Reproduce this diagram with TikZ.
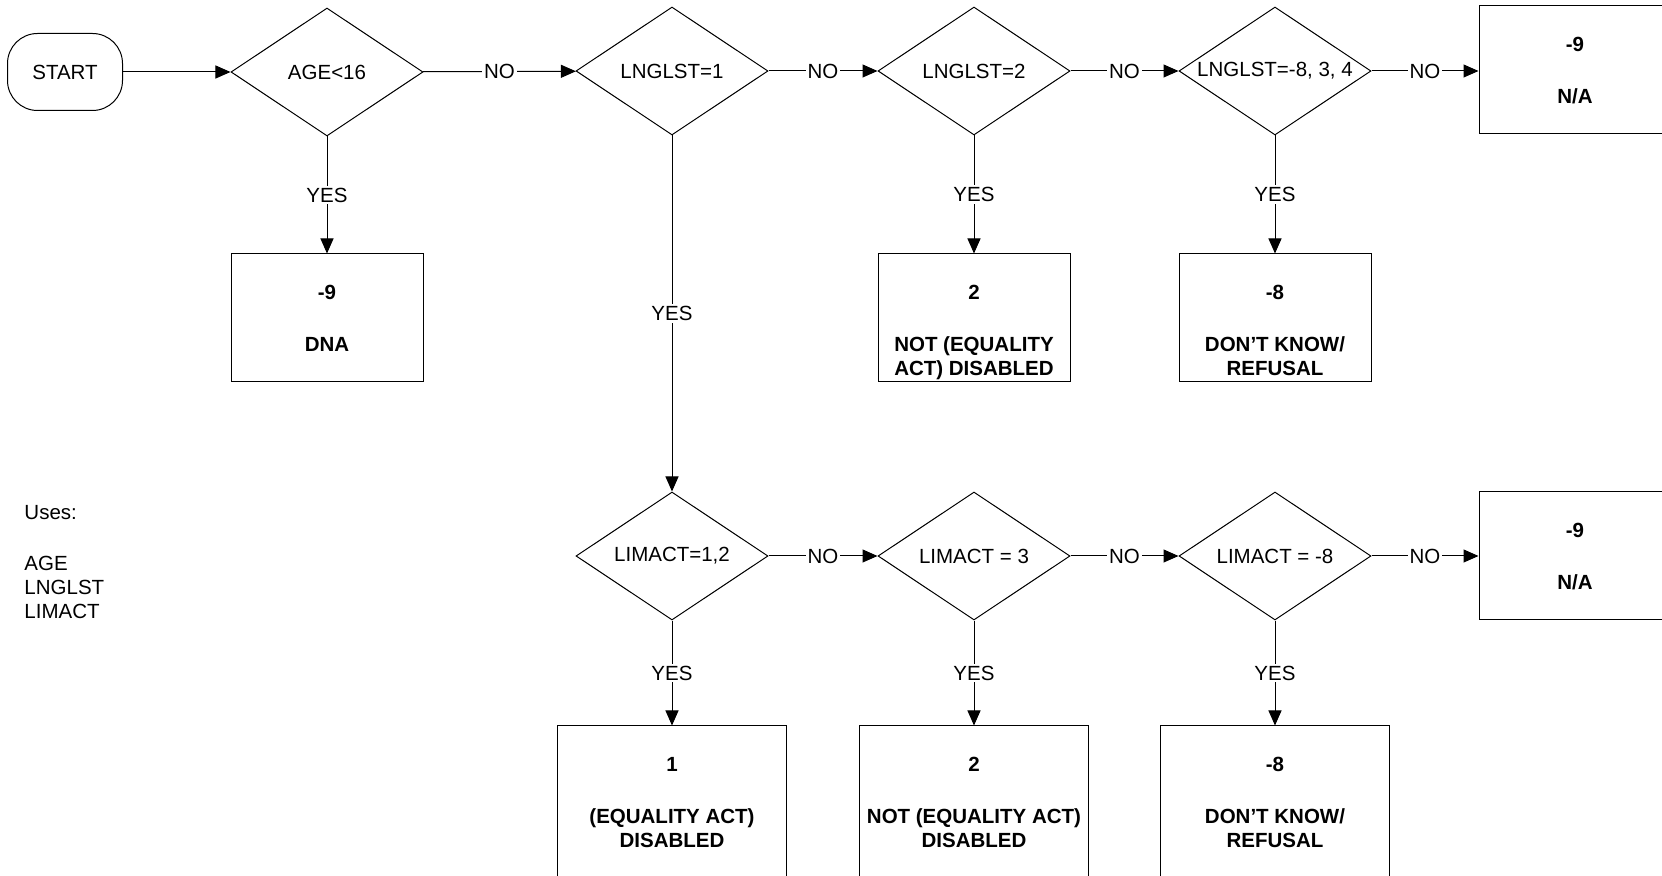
\documentclass[tikz,border=0pt]{standalone}
\usepackage{fontspec}
\setmainfont{Liberation Sans}
\usetikzlibrary{shapes.geometric,arrows.meta}
\newcommand\chartfont{\fontsize{10.25pt}{12pt}\selectfont}
\begin{document}
\begin{tikzpicture}[x=0.5pt,y=-0.5pt,line width=0.5pt,
  every node/.style={font=\chartfont},
  decision/.style={diamond,draw,aspect=1.5,inner sep=0pt,minimum width=96pt,minimum height=64pt},
  outcome/.style={rectangle,draw,minimum width=96pt,minimum height=64pt},
  bigoutcome/.style={outcome,minimum width=114.5pt,minimum height=77pt},
  startbox/.style={rectangle,draw,rounded corners=15pt,minimum width=57.5pt,minimum height=38.5pt},
  valtext/.style={font=\chartfont\bfseries,align=center,anchor=north,inner sep=0pt},
  lbl/.style={fill=white,inner sep=1pt},
  flow/.style={-{Triangle[length=7.5pt,width=6.5pt]}}]
\useasboundingbox (0,0) rectangle (1662,876);
\clip (0,0) rectangle (1662,876);
\node[startbox] (start) at (65,72) {START};
\node[decision] (age) at (327,72) {AGE<16};
\node[decision] (lng1) at (672,71) {LNGLST=1};
\node[decision] (lng2) at (974,71) {LNGLST=2};
\node[decision] (lng8) at (1275,71) {LNGLST=-8, 3, 4};
\node[outcome] (na1) at (1575,70) {};
\node[outcome] (dna) at (327,318) {};
\node[outcome] (notdis1) at (974,318) {};
\node[outcome] (dk1) at (1275,318) {};
\node[decision] (lim12) at (672,556) {LIMACT=1,2};
\node[decision] (lim3) at (974,556) {LIMACT = 3};
\node[decision] (lim8) at (1275,556) {LIMACT = -8};
\node[outcome] (na2) at (1575,556) {};
\node[bigoutcome] (dis) at (672,803) {};
\node[bigoutcome] (notdis2) at (974,803) {};
\node[bigoutcome] (dk2) at (1275,803) {};
% box texts
\node[valtext] (na1T) at ([yshift=-15.5pt]na1.north) {-9\\[14pt]N/A};
\node[valtext] (dnaT) at ([yshift=-15.5pt]dna.north) {-9\\[14pt]DNA};
\node[valtext] (notdis1T) at ([yshift=-15.5pt]notdis1.north) {2\\[14pt]NOT (EQUALITY\\ACT) DISABLED};
\node[valtext] (dk1T) at ([yshift=-15.5pt]dk1.north) {-8\\[14pt]DON'T KNOW/\\REFUSAL};
\node[valtext] (na2T) at ([yshift=-15.5pt]na2.north) {-9\\[14pt]N/A};
\node[valtext] (disT) at ([yshift=-15.5pt]dis.north) {1\\[14pt](EQUALITY ACT)\\DISABLED};
\node[valtext] (notdis2T) at ([yshift=-15.5pt]notdis2.north) {2\\[14pt]NOT (EQUALITY ACT)\\DISABLED};
\node[valtext] (dk2T) at ([yshift=-15.5pt]dk2.north) {-8\\[14pt]DON'T KNOW/\\REFUSAL};
\node[anchor=north west,align=left,inner sep=0pt] (uses) at (24,505) {Uses:\\[13.5pt]AGE\\LNGLST\\LIMACT};
% connectors
\draw[flow] (start) -- (age);
\draw[flow] (age) -- node[lbl] (noA) {NO} (lng1);
\draw[flow] (lng1) -- node[lbl] (noB) {NO} (lng2);
\draw[flow] (lng2) -- node[lbl] (noC) {NO} (lng8);
\draw[flow] (lng8) -- node[lbl] (noD) {NO} (lng8 -| na1.west);
\draw[flow] (age) -- node[lbl] (yesA) {YES} (dna);
\draw[flow] (lng1) -- node[lbl] (yesB) {YES} (lim12);
\draw[flow] (lng2) -- node[lbl] (yesC) {YES} (notdis1);
\draw[flow] (lng8) -- node[lbl] (yesD) {YES} (dk1);
\draw[flow] (lim12) -- node[lbl] (noE) {NO} (lim3);
\draw[flow] (lim3) -- node[lbl] (noF) {NO} (lim8);
\draw[flow] (lim8) -- node[lbl] (noG) {NO} (na2);
\draw[flow] (lim12) -- node[lbl] (yesE) {YES} (dis);
\draw[flow] (lim3) -- node[lbl] (yesF) {YES} (notdis2);
\draw[flow] (lim8) -- node[lbl] (yesG) {YES} (dk2);
\end{tikzpicture}
\end{document}
